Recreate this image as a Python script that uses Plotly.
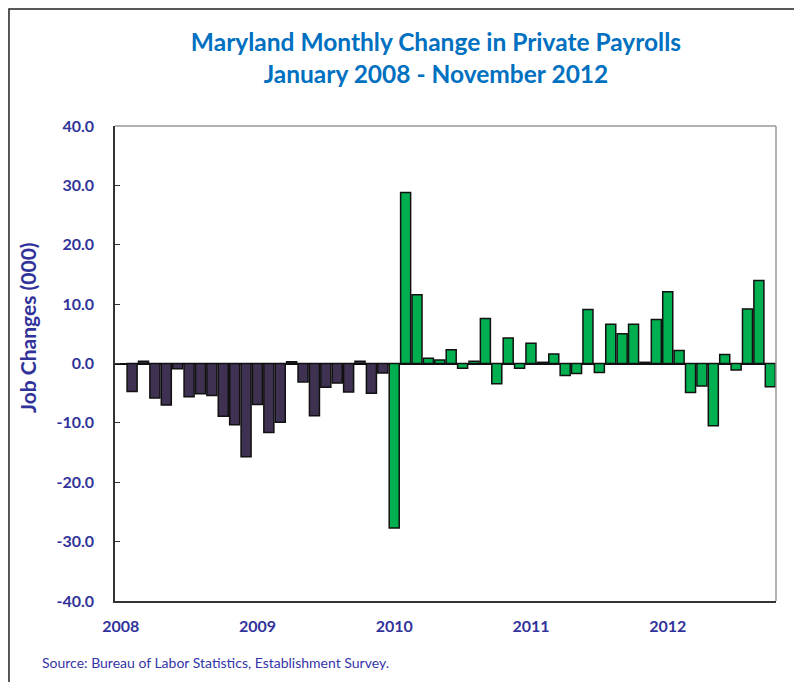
import plotly.graph_objects as go

# Monthly change in private payrolls (thousands), slot 0 = Jan 2008 (no bar)
months = list(range(58))
values = [None, -4.7, 0.4, -5.8, -7.0, -0.9, -5.6, -5.1, -5.4, -8.9, -10.3, -15.7,
          -6.9, -11.6, -9.9, 0.3, -3.1, -8.8, -4.0, -3.3, -4.8, 0.4, -5.0, -1.6,
          -27.7, 28.8, 11.6, 0.9, 0.6, 2.3, -0.8, 0.4, 7.6, -3.4, 4.3, -0.8,
          3.4, 0.2, 1.6, -2.0, -1.7, 9.1, -1.5, 6.6, 5.0, 6.6, 0.2, 7.4,
          12.1, 2.2, -4.9, -3.8, -10.5, 1.5, -1.1, 9.2, 14.0, -3.9]
year_ticks = [0, 12, 24, 36, 48]
year_labels = ["2008", "2009", "2010", "2011", "2012"]
y_ticks = [40, 30, 20, 10, 0, -10, -20, -30, -40]
y_labels = ["40.0", "30.0", "20.0", "10.0", "0.0", "-10.0", "-20.0", "-30.0", "-40.0"]

colors = ["#3F3151" if m < 24 else "#00B050" for m in months]

FONT = "Lato"
AXIS_COLOR = "#31339A"

fig = go.Figure()
fig.add_trace(go.Bar(
    x=months, y=values,
    marker=dict(color=colors, line=dict(color="#111111", width=1.5)),
    hoverinfo="x+y",
))

fig.update_layout(
    width=794, height=674,
    paper_bgcolor="white", plot_bgcolor="white",
    margin=dict(l=107, r=26, t=118, b=81, autoexpand=False),
    showlegend=False,
    bargap=0.12,
    title=dict(
        text="<b>Maryland Monthly Change in Private Payrolls<br>January 2008 - November 2012</b>",
        x=0.539, xanchor="center", y=0.936, yanchor="top",
        font=dict(family=FONT, size=24.5, color="#0070C0"),
    ),
    xaxis=dict(
        range=[-0.5, 57.5], automargin=False,
        tickmode="array", tickvals=year_ticks, ticktext=year_labels,
        tickfont=dict(family=FONT, size=16, color=AXIS_COLOR, weight="bold"),
        showgrid=False, zeroline=False,
        showline=True, linecolor="#333333", linewidth=1.5,
        mirror=False, ticks="", ticklabelstandoff=10,
    ),
    yaxis=dict(
        range=[-40, 40], automargin=False,
        tickmode="array", tickvals=y_ticks, ticktext=y_labels,
        tickfont=dict(family=FONT, size=16, color=AXIS_COLOR, weight="bold"),
        showgrid=False,
        zeroline=True, zerolinecolor="#111111", zerolinewidth=1.5,
        showline=True, linecolor="#333333", linewidth=1.5,
        ticks="inside", ticklen=5, tickcolor="#333333",
        ticklabelstandoff=16,
    ),
    shapes=[
        # gray top/right plot border
        dict(type="line", xref="paper", yref="paper", x0=0, x1=1, y0=1, y1=1,
             line=dict(color="#999999", width=1.5)),
        dict(type="line", xref="paper", yref="paper", x0=1, x1=1, y0=0, y1=1,
             line=dict(color="#999999", width=1.5)),
        # outer chart frame (extends beyond image on right/bottom)
        dict(type="rect", xref="paper", yref="paper",
             x0=-0.1604, x1=1.2, y0=-0.3, y1=1.2463,
             line=dict(color="#222222", width=1.5), fillcolor="rgba(0,0,0,0)", layer="below"),
    ],
    annotations=[
        dict(text="<b>Job Changes (000)</b>", textangle=-90,
             xref="paper", yref="paper", x=-0.1316, y=0.575,
             xanchor="center", yanchor="middle", showarrow=False,
             font=dict(family=FONT, size=21, color=AXIS_COLOR)),
        dict(text="Source: Bureau of Labor Statistics, Establishment Survey.",
             xref="paper", yref="paper", x=-0.1135, y=-0.1305,
             xanchor="left", yanchor="middle", showarrow=False,
             font=dict(family=FONT, size=14, color="#3434A8")),
    ],
)

fig.write_html("out.html")
